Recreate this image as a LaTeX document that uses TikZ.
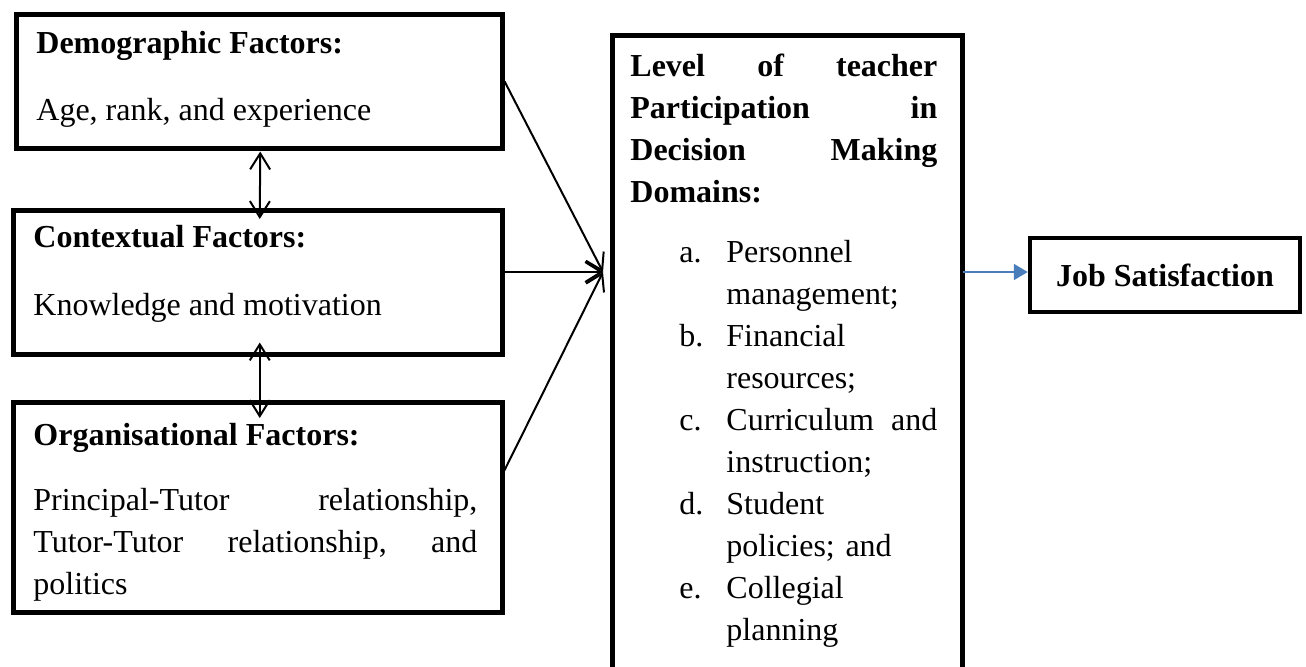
\documentclass[tikz,border=0pt]{standalone}
\usepackage{fontspec}
\setmainfont{Liberation Serif}
\usetikzlibrary{arrows.meta}

\definecolor{jobblue}{RGB}{74,126,187}

\tikzset{
  factorbox/.style={draw, line width=2.25pt, inner sep=0pt, anchor=north west},
  boxtext/.style={inner sep=0pt, anchor=base west, font=\fontsize{16}{21}\selectfont},
  boxpara/.style={boxtext, align=left, text width=#1},
  linkarrow/.style={line width=1pt, -{Straight Barb[length=8pt,width=10pt]}},
  bothways/.style={line width=1pt, {Straight Barb[length=8pt,width=10pt]}-{Straight Barb[length=8pt,width=10pt]}},
  jobarrow/.style={line width=1pt, draw=jobblue, -{Triangle[length=7pt,width=8pt]}},
}

\begin{document}
\begin{tikzpicture}[x=0.5pt, y=-0.5pt]
    \useasboundingbox (0,0) rectangle (1306,666);

    % the three groups of factors
    \node [factorbox, minimum width=243pt, minimum height=67pt] (demobox) at (14,12) {};
    \node [factorbox, minimum width=244.5pt, minimum height=72pt] (ctxbox) at (11,208) {};
    \node [factorbox, minimum width=244.5pt, minimum height=105pt] (orgbox) at (11,400) {};

    \node [boxtext] (demotitle) at (36,53) {\textbf{Demographic Factors:}};
    \node [boxtext] (demotext) at (36,120) {Age, rank, and experience};

    \node [boxtext] (ctxtitle) at (33,247) {\textbf{Contextual Factors:}};
    \node [boxtext] (ctxtext) at (33,315) {Knowledge and motivation};

    \node [boxtext] (orgtitle) at (33,445) {\textbf{Organisational Factors:}};
    \node [boxpara=222pt] (orgtext) at (33,510) {Principal-Tutor\hfill relationship,\\Tutor-Tutor\hfill relationship,\hfill and\\politics};

    % participation domains
    \node [factorbox, minimum width=175pt, minimum height=319.5pt] (levelbox) at (610,33) {};
    \node [boxpara=153.5pt, font=\fontsize{16}{21}\selectfont\bfseries] (leveltitle) at (630,76)
        {Level\hfill of\hfill teacher\\Participation\hfill in\\Decision\hfill Making\\Domains:};

    \foreach \lab/\one/\two [count=\i from 0] in {a./Personnel/management;, b./Financial/resources;,
        c./{Curriculum\hfill and}/instruction;, d./Student/{policies; and}, e./Collegial/planning} {
        \node [boxtext] (lab\i) at (679,{262+84*\i}) {\lab};
        \node [boxpara=105.5pt] (item\i) at (726,{262+84*\i}) {\one\\\two};
    }

    % outcome
    \node [draw, line width=2.25pt, minimum width=135pt, minimum height=37pt,
        font=\fontsize{16}{21}\selectfont\bfseries] (jobbox) at (1165,275) {Job Satisfaction};

    % links
    \coordinate (meet) at (603,272);
    \draw [linkarrow] (demobox.east) -- (meet);
    \draw [linkarrow] (ctxbox.east |- meet) -- (meet);
    \draw [linkarrow] ([yshift=18.5pt]orgbox.east) -- (meet);

    \draw [bothways] ([xshift=0.5pt, yshift=-0.5pt]demobox.south) -- ([xshift=1pt, yshift=-5.5pt]ctxbox.north);
    \draw [bothways] ([xshift=1pt, yshift=7pt]ctxbox.south) -- ([xshift=1pt, yshift=-9pt]orgbox.north);

    \draw [jobarrow] ([xshift=-1pt]levelbox.east |- meet) -- (jobbox.west |- meet);
\end{tikzpicture}
\end{document}
